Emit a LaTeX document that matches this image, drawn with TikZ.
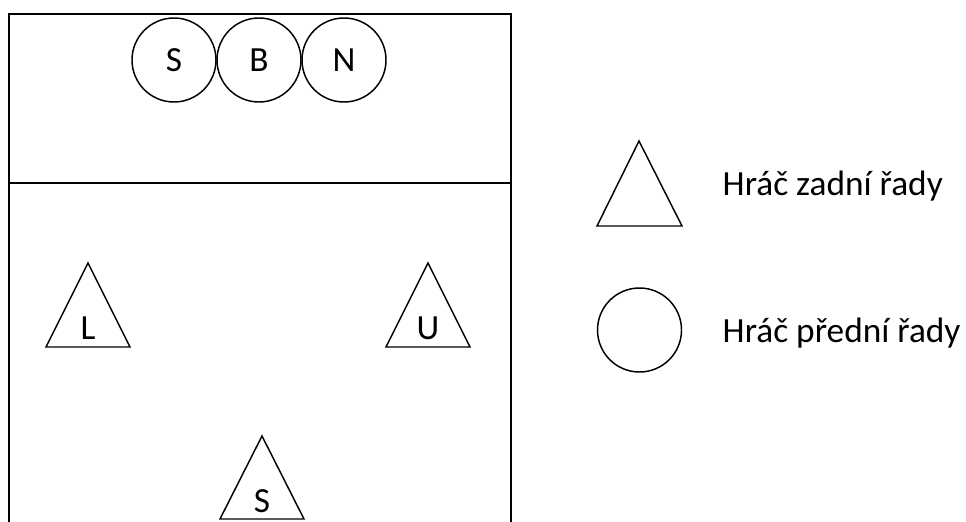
\documentclass[tikz,border=0pt]{standalone}
\usepackage{fontspec}
\setmainfont{Carlito}
\begin{document}
\begin{tikzpicture}[x=0.75pt,y=-0.75pt, % one unit = one pixel
	line width=1.1pt,
	every node/.style={font=\fontsize{26.5}{32}\selectfont,inner sep=0pt},
	predni/.style={circle,draw,minimum size=63pt}]
	\useasboundingbox (0,0) rectangle (966,521);
	\clip (0,0) rectangle (966,521);
	% court
	\draw (9,14) rectangle (511,545);
	\draw (9,183) -- (511,183);
	% front row
	\node[predni] (s1) at (174,60) {S};
	\node[predni] (b)  at (259,60) {B};
	\node[predni] (n)  at (344,60) {N};
	% back row
	\draw (88,263) -- (130,347) -- (46,347) -- cycle;
	\node[anchor=base] (l) at (88,339) {L};
	\draw (428,263) -- (470,347) -- (386,347) -- cycle;
	\node[anchor=base] (u) at (428,339) {U};
	\draw (262,436) -- (304,519) -- (220,519) -- cycle;
	\node[anchor=base] (s2) at (262,512) {S};
	% legend
	\draw (639,141) -- (682,226) -- (597,226) -- cycle;
	\node[anchor=base west] (zadni) at (722,195) {Hráč zadní řady};
	\node[predni] (kruh) at (639.5,330) {};
	\node[anchor=base west] (prvni) at (722,342) {Hráč přední řady};
\end{tikzpicture}
\end{document}
